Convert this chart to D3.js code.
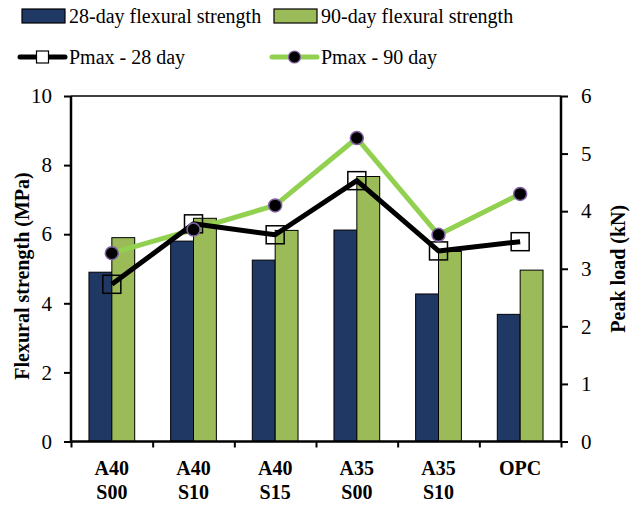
<!DOCTYPE html>
<html>
<head>
<meta charset="utf-8">
<script src="https://cdn.jsdelivr.net/npm/d3@7/dist/d3.min.js"></script>
<style>
  html, body { margin: 0; padding: 0; background: #fff; }
  svg { display: block; }
  svg text { font-family: "Liberation Serif", "Times New Roman", serif; }
</style>
</head>
<body>
<svg id="chart" width="633" height="515"></svg>
<script>
// Mix designs (two-line labels)
const categories = ["A40 S00", "A40 S10", "A40 S15", "A35 S00", "A35 S10", "OPC"];
// Flexural strength, MPa (left axis)
const flex28 = [4.9, 5.8, 5.25, 6.12, 4.27, 3.68];
const flex90 = [5.9, 6.46, 6.11, 7.67, 5.5, 4.96];
// Peak load, kN (right axis)
const pmax28 = [2.73, 3.78, 3.59, 4.53, 3.31, 3.47];
const pmax90 = [3.27, 3.68, 4.10, 5.27, 3.59, 4.30];
const leftTicks = [0, 2, 4, 6, 8, 10];
const rightTicks = [0, 1, 2, 3, 4, 5, 6];

const navy = "#203864", green = "#9BBB59", lime = "#92D050", purple = "#8064A2";

const svg = d3.select("#chart");
const m = { left: 71, right: 561, top: 96, bottom: 441.5 };

const x = d3.scaleBand().domain(categories).range([m.left, m.right]).paddingInner(0).paddingOuter(0);
const yL = d3.scaleLinear().domain([0, 10]).range([m.bottom, m.top]);
const yR = d3.scaleLinear().domain([0, 6]).range([m.bottom, m.top]);
const bw = x.bandwidth() * 0.28;

// Bars
const g = svg.append("g");
g.selectAll("rect.b28").data(flex28).join("rect")
  .attr("x", (d, i) => x(categories[i]) + x.bandwidth() / 2 - bw)
  .attr("y", d => yL(d)).attr("width", bw).attr("height", d => yL(0) - yL(d))
  .attr("fill", navy).attr("stroke", "#000").attr("stroke-width", 1);
g.selectAll("rect.b90").data(flex90).join("rect")
  .attr("x", (d, i) => x(categories[i]) + x.bandwidth() / 2)
  .attr("y", d => yL(d)).attr("width", bw).attr("height", d => yL(0) - yL(d))
  .attr("fill", green).attr("stroke", "#000").attr("stroke-width", 1);

// Top frame line
svg.append("line").attr("x1", m.left).attr("x2", m.right).attr("y1", m.top).attr("y2", m.top)
  .attr("stroke", "#000").attr("stroke-width", 1.5);

// Axes
const axL = svg.append("g").attr("transform", `translate(${m.left},0)`)
  .call(d3.axisLeft(yL).tickValues(leftTicks).tickSize(7).tickPadding(12).tickFormat(d3.format("d")));
const axR = svg.append("g").attr("transform", `translate(${m.right},0)`)
  .call(d3.axisRight(yR).tickValues(rightTicks).tickSize(7).tickPadding(13).tickFormat(d3.format("d")));
const bandEdges = categories.map(c => x(c)).concat([m.right]);
const xEdge = d3.scaleLinear().domain([m.left, m.right]).range([m.left, m.right]);
const axB = svg.append("g").attr("transform", `translate(0,${m.bottom})`)
  .call(d3.axisBottom(xEdge).tickValues(bandEdges).tickSize(6).tickFormat(""));
[axL, axR, axB].forEach(a => {
  a.attr("font-family", null);
  a.select(".domain").attr("stroke", "#000").attr("stroke-width", 2.5);
  a.selectAll(".tick line").attr("stroke", "#000").attr("stroke-width", 2);
  a.selectAll("text").attr("font-size", 21).attr("fill", "#000");
});
axB.select(".domain").attr("d", `M${m.left},0H${m.right}`);
axL.select(".domain").attr("d", `M0,${m.bottom}V${m.top}`);
axR.select(".domain").attr("d", `M0,${m.bottom}V${m.top}`);

// Category labels
categories.forEach(c => {
  const parts = c.split(" ");
  const cxp = x(c) + x.bandwidth() / 2;
  const t = svg.append("text").attr("text-anchor", "middle")
    .attr("font-weight", "bold").attr("font-size", 20)
    .attr("x", cxp).attr("y", 475);
  parts.forEach((p, j) => t.append("tspan").attr("x", cxp)
    .attr("dy", j === 0 ? 0 : 24).text(p));
});

// Axis titles
svg.append("text").attr("transform", `translate(29,276) rotate(-90)`)
  .attr("text-anchor", "middle").attr("font-weight", "bold").attr("font-size", 20)
  .text("Flexural strength (MPa)");
svg.append("text").attr("transform", `translate(625,${(m.top + m.bottom) / 2}) rotate(-90)`)
  .attr("text-anchor", "middle").attr("font-weight", "bold").attr("font-size", 20)
  .text("Peak load (kN)");

// Peak-load lines
const cx = (d, i) => x(categories[i]) + x.bandwidth() / 2;
const line = d3.line().x(cx).y(d => yR(d));
svg.append("path").datum(pmax90).attr("d", line).attr("fill", "none")
  .attr("stroke", lime).attr("stroke-width", 5).attr("stroke-linejoin", "round");
svg.append("path").datum(pmax28).attr("d", line).attr("fill", "none")
  .attr("stroke", "#000").attr("stroke-width", 5).attr("stroke-linejoin", "round");
const sq = 18;
svg.selectAll("rect.m28").data(pmax28).join("rect")
  .attr("x", (d, i) => cx(d, i) - sq / 2).attr("y", d => yR(d) - sq / 2)
  .attr("width", sq).attr("height", sq).attr("fill", "none")
  .attr("stroke", "#000").attr("stroke-width", 1.5);
svg.selectAll("circle.m90").data(pmax90).join("circle")
  .attr("cx", cx).attr("cy", d => yR(d)).attr("r", 6.5)
  .attr("fill", "#000").attr("stroke", purple).attr("stroke-width", 1.5);

// Legend
const lg = svg.append("g").attr("font-size", 20);
lg.append("rect").attr("x", 22).attr("y", 9).attr("width", 43).attr("height", 14)
  .attr("fill", navy).attr("stroke", "#000").attr("stroke-width", 1.2);
lg.append("text").attr("x", 69).attr("y", 23).text("28-day flexural strength");
lg.append("rect").attr("x", 274).attr("y", 9).attr("width", 43).attr("height", 14)
  .attr("fill", green).attr("stroke", "#000").attr("stroke-width", 1.2);
lg.append("text").attr("x", 321).attr("y", 23).text("90-day flexural strength");

lg.append("line").attr("x1", 20).attr("x2", 65).attr("y1", 57).attr("y2", 57)
  .attr("stroke", "#000").attr("stroke-width", 5).attr("stroke-linecap", "round");
lg.append("rect").attr("x", 36.5).attr("y", 51).attr("width", 12).attr("height", 12)
  .attr("fill", "#fff").attr("stroke", "#000").attr("stroke-width", 1.2);
lg.append("text").attr("x", 69).attr("y", 64).text("Pmax - 28 day");
lg.append("line").attr("x1", 272).attr("x2", 317).attr("y1", 57).attr("y2", 57)
  .attr("stroke", lime).attr("stroke-width", 5).attr("stroke-linecap", "round");
lg.append("circle").attr("cx", 294.5).attr("cy", 57).attr("r", 6)
  .attr("fill", "#000").attr("stroke", purple).attr("stroke-width", 1.2);
lg.append("text").attr("x", 321).attr("y", 64).text("Pmax - 90 day");
</script>
</body>
</html>
